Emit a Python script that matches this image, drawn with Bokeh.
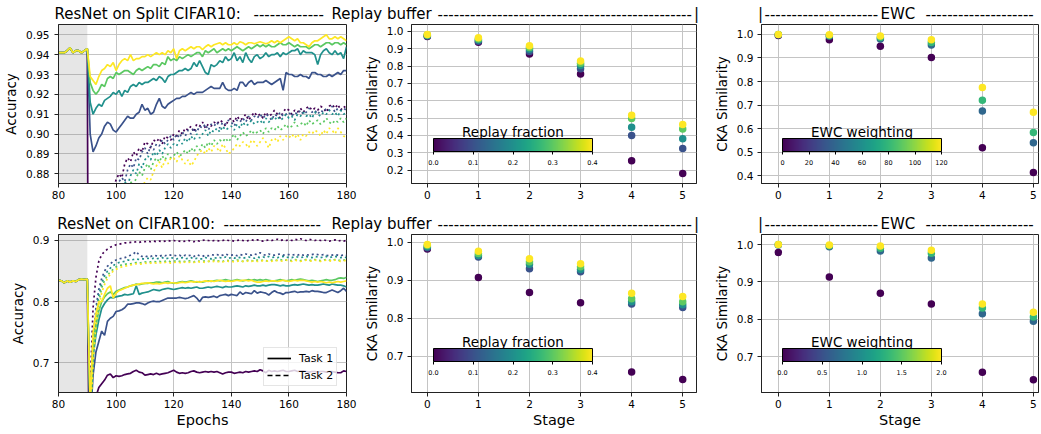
from bokeh.plotting import figure
from bokeh.layouts import column, row
from bokeh.models import (Range1d, FixedTicker, PrintfTickFormatter, BoxAnnotation,
                          ColumnDataSource, LinearColorMapper, ColorBar, Label, Legend, LegendItem)
from bokeh.palettes import Viridis256
from bokeh.core.properties import value
from bokeh.embed import file_html
from bokeh.resources import INLINE

FONT = "DejaVu Sans"

# ---------------- data ----------------
epochs_pre = list(range(80, 91))
epochs_post = list(range(91, 181))
replay_fracs = [0.0, 0.1, 0.2, 0.3, 0.4]
stages = [0, 1, 2, 3, 4, 5]
ewc_w10 = [0, 40, 80, 120]
ewc_w100 = [0.0, 0.667, 1.333, 2.0]

acc_ticks_c10 = [0.88, 0.89, 0.90, 0.91, 0.92, 0.93, 0.94, 0.95]
acc_ticks_c100 = [0.7, 0.8, 0.9]
epoch_ticks = [80, 100, 120, 140, 160, 180]

# CIFAR10, Task 1 (solid) before the task switch (shared)
c10_pre = [0.941, 0.941, 0.941, 0.942, 0.9435, 0.941, 0.942, 0.942, 0.941, 0.942, 0.943]
# Task 1 with replay 0.0 falls below the visible range right after epoch 90
c10_t1_r00 = [0.50]
c10_t1_r01 = [0.900, 0.891, 0.894, 0.898, 0.900, 0.904, 0.906, 0.905, 0.902, 0.901,
              0.903, 0.905, 0.907, 0.909, 0.908, 0.908, 0.910, 0.911, 0.915, 0.912,
              0.913, 0.910, 0.911, 0.915, 0.918, 0.914, 0.913, 0.915, 0.916, 0.917,
              0.918, 0.918, 0.919, 0.919, 0.920, 0.921, 0.920, 0.921, 0.921, 0.921,
              0.922, 0.923, 0.924, 0.923, 0.923, 0.923, 0.926, 0.923, 0.922, 0.922,
              0.923, 0.922, 0.926, 0.926, 0.924, 0.926, 0.927, 0.925, 0.926, 0.926,
              0.926, 0.927, 0.926, 0.925, 0.926, 0.927, 0.928, 0.922, 0.931, 0.930,
              0.930, 0.929, 0.929, 0.930, 0.929, 0.929, 0.928, 0.931, 0.931, 0.930,
              0.930, 0.929, 0.929, 0.930, 0.929, 0.930, 0.931, 0.930, 0.932, 0.932]
c10_t1_r02 = [0.916, 0.910, 0.913, 0.915, 0.914, 0.917, 0.918, 0.919, 0.921, 0.920,
              0.922, 0.919, 0.922, 0.921, 0.924, 0.925, 0.924, 0.926, 0.925, 0.926,
              0.926, 0.927, 0.928, 0.927, 0.929, 0.928, 0.926, 0.929, 0.930, 0.930,
              0.931, 0.932, 0.932, 0.933, 0.932, 0.933, 0.936, 0.934, 0.937, 0.934,
              0.931, 0.930, 0.935, 0.934, 0.935, 0.937, 0.936, 0.939, 0.937, 0.938,
              0.941, 0.937, 0.939, 0.936, 0.941, 0.938, 0.936, 0.939, 0.940, 0.938,
              0.939, 0.941, 0.939, 0.940, 0.940, 0.941, 0.939, 0.941, 0.940, 0.941,
              0.942, 0.942, 0.943, 0.940, 0.942, 0.941, 0.941, 0.941, 0.940, 0.935,
              0.940, 0.942, 0.943, 0.941, 0.940, 0.942, 0.940, 0.941, 0.938, 0.944]
c10_t1_r03 = [0.926, 0.922, 0.920, 0.922, 0.925, 0.924, 0.928, 0.929, 0.928, 0.931,
              0.930, 0.931, 0.932, 0.932, 0.931, 0.930, 0.932, 0.933, 0.932, 0.933,
              0.934, 0.933, 0.935, 0.935, 0.934, 0.936, 0.935, 0.939, 0.937, 0.938,
              0.937, 0.939, 0.938, 0.939, 0.940, 0.939, 0.940, 0.941, 0.941, 0.939,
              0.942, 0.941, 0.942, 0.943, 0.941, 0.942, 0.943, 0.942, 0.943, 0.942,
              0.943, 0.944, 0.943, 0.942, 0.943, 0.944, 0.943, 0.944, 0.945, 0.944,
              0.945, 0.944, 0.945, 0.944, 0.944, 0.945, 0.946, 0.945, 0.945, 0.946,
              0.945, 0.944, 0.945, 0.944, 0.944, 0.944, 0.943, 0.944, 0.945, 0.945,
              0.944, 0.945, 0.946, 0.946, 0.945, 0.946, 0.946, 0.945, 0.946, 0.945]
c10_t1_r04 = [0.929, 0.927, 0.925, 0.929, 0.932, 0.933, 0.935, 0.934, 0.936, 0.932,
              0.935, 0.937, 0.938, 0.937, 0.940, 0.937, 0.938, 0.938, 0.939, 0.939,
              0.940, 0.939, 0.940, 0.941, 0.940, 0.941, 0.940, 0.942, 0.941, 0.943,
              0.938, 0.942, 0.943, 0.942, 0.943, 0.944, 0.943, 0.944, 0.944, 0.9425,
              0.944, 0.945, 0.944, 0.945, 0.9455, 0.946, 0.945, 0.946, 0.945, 0.945,
              0.946, 0.945, 0.9465, 0.946, 0.945, 0.946, 0.946, 0.9455, 0.946, 0.9465,
              0.946, 0.9455, 0.946, 0.947, 0.946, 0.947, 0.946, 0.947, 0.948, 0.949,
              0.948, 0.947, 0.948, 0.946, 0.946, 0.945, 0.944, 0.946, 0.947, 0.947,
              0.948, 0.949, 0.950, 0.948, 0.948, 0.949, 0.948, 0.949, 0.948, 0.947]

# CIFAR10, Task 2 (dotted)
c10_t2_r00 = [0.60, 0.76, 0.81, 0.835, 0.848, 0.856, 0.862, 0.867, 0.872, 0.877,
              0.880, 0.878, 0.885, 0.888, 0.886, 0.891, 0.889, 0.893, 0.891, 0.896,
              0.895, 0.893, 0.897, 0.896, 0.898, 0.895, 0.899, 0.898, 0.897, 0.900,
              0.899, 0.902, 0.900, 0.903, 0.902, 0.904, 0.901, 0.905, 0.904, 0.906,
              0.903, 0.905, 0.904, 0.906, 0.905, 0.907, 0.906, 0.904, 0.907, 0.908,
              0.906, 0.909, 0.907, 0.908, 0.910, 0.907, 0.909, 0.911, 0.909, 0.910,
              0.908, 0.911, 0.909, 0.910, 0.912, 0.910, 0.908, 0.911, 0.913, 0.912,
              0.910, 0.912, 0.911, 0.913, 0.911, 0.913, 0.914, 0.912, 0.913, 0.912,
              0.914, 0.913, 0.911, 0.914, 0.915, 0.913, 0.915, 0.912, 0.914, 0.913]
c10_t2_r01 = [0.55, 0.74, 0.80, 0.826, 0.840, 0.850, 0.857, 0.863, 0.868, 0.872,
              0.876, 0.878, 0.876, 0.882, 0.885, 0.883, 0.888, 0.887, 0.891, 0.893,
              0.890, 0.894, 0.892, 0.895, 0.894, 0.897, 0.895, 0.897, 0.899, 0.897,
              0.900, 0.898, 0.901, 0.899, 0.902, 0.900, 0.903, 0.901, 0.904, 0.903,
              0.905, 0.902, 0.905, 0.904, 0.906, 0.903, 0.906, 0.905, 0.907, 0.906,
              0.904, 0.907, 0.906, 0.908, 0.906, 0.909, 0.907, 0.909, 0.908, 0.910,
              0.908, 0.910, 0.909, 0.907, 0.910, 0.909, 0.911, 0.909, 0.910, 0.911,
              0.909, 0.911, 0.910, 0.912, 0.910, 0.911, 0.913, 0.911, 0.912, 0.910,
              0.912, 0.911, 0.913, 0.912, 0.914, 0.911, 0.913, 0.912, 0.913, 0.912]
c10_t2_r02 = [0.50, 0.72, 0.78, 0.81, 0.828, 0.840, 0.848, 0.855, 0.861, 0.866,
              0.870, 0.873, 0.876, 0.874, 0.879, 0.882, 0.880, 0.885, 0.883, 0.887,
              0.889, 0.887, 0.891, 0.889, 0.892, 0.890, 0.893, 0.895, 0.893, 0.895,
              0.894, 0.897, 0.895, 0.898, 0.896, 0.899, 0.897, 0.900, 0.898, 0.900,
              0.902, 0.899, 0.902, 0.901, 0.903, 0.901, 0.904, 0.902, 0.903, 0.904,
              0.902, 0.905, 0.903, 0.906, 0.904, 0.905, 0.907, 0.905, 0.906, 0.907,
              0.905, 0.908, 0.906, 0.908, 0.907, 0.909, 0.907, 0.908, 0.910, 0.908,
              0.909, 0.907, 0.910, 0.909, 0.911, 0.909, 0.910, 0.908, 0.911, 0.910,
              0.909, 0.911, 0.910, 0.912, 0.910, 0.911, 0.909, 0.912, 0.910, 0.911]
c10_t2_r03 = [0.45, 0.70, 0.76, 0.795, 0.815, 0.828, 0.838, 0.846, 0.852, 0.858,
              0.862, 0.866, 0.869, 0.872, 0.876, 0.874, 0.878, 0.881, 0.879, 0.883,
              0.885, 0.882, 0.886, 0.888, 0.886, 0.889, 0.887, 0.890, 0.888, 0.889,
              0.891, 0.889, 0.890, 0.892, 0.890, 0.893, 0.891, 0.894, 0.892, 0.895,
              0.893, 0.896, 0.894, 0.897, 0.895, 0.897, 0.896, 0.898, 0.896, 0.898,
              0.900, 0.897, 0.899, 0.901, 0.899, 0.900, 0.902, 0.900, 0.901, 0.902,
              0.900, 0.903, 0.901, 0.903, 0.902, 0.904, 0.902, 0.903, 0.905, 0.903,
              0.904, 0.906, 0.904, 0.905, 0.906, 0.904, 0.907, 0.905, 0.906, 0.907,
              0.905, 0.906, 0.908, 0.906, 0.905, 0.907, 0.906, 0.908, 0.906, 0.908]
c10_t2_r04 = [0.40, 0.66, 0.73, 0.77, 0.795, 0.810, 0.822, 0.832, 0.840, 0.846,
              0.851, 0.856, 0.860, 0.864, 0.867, 0.869, 0.872, 0.874, 0.873, 0.876,
              0.878, 0.877, 0.881, 0.884, 0.886, 0.883, 0.887, 0.885, 0.888, 0.888,
              0.886, 0.889, 0.887, 0.885, 0.887, 0.884, 0.886, 0.889, 0.891, 0.892,
              0.890, 0.893, 0.891, 0.894, 0.893, 0.891, 0.895, 0.893, 0.890, 0.891,
              0.893, 0.895, 0.894, 0.896, 0.895, 0.893, 0.897, 0.896, 0.894, 0.896,
              0.898, 0.896, 0.893, 0.897, 0.898, 0.896, 0.899, 0.897, 0.899, 0.898,
              0.900, 0.898, 0.900, 0.897, 0.900, 0.899, 0.901, 0.900, 0.902, 0.901,
              0.899, 0.902, 0.900, 0.903, 0.902, 0.900, 0.903, 0.901, 0.899, 0.898]

# CIFAR100, Task 1 (solid)
c100_pre = [0.835, 0.834, 0.831, 0.834, 0.832, 0.834, 0.833, 0.836, 0.837, 0.836, 0.837]
c100_t1_r00 = [0.40, 0.55, 0.645, 0.660, 0.666, 0.672, 0.680, 0.682, 0.676, 0.679,
               0.678, 0.679, 0.681, 0.682, 0.683, 0.686, 0.688, 0.685, 0.684, 0.680,
               0.681, 0.682, 0.681, 0.683, 0.681, 0.682, 0.683, 0.684, 0.686, 0.688,
               0.685, 0.683, 0.684, 0.683, 0.684, 0.686, 0.687, 0.685, 0.684, 0.685,
               0.686, 0.685, 0.686, 0.685, 0.686, 0.684, 0.682, 0.684, 0.685, 0.685,
               0.683, 0.684, 0.685, 0.684, 0.686, 0.685, 0.686, 0.687, 0.686, 0.689,
               0.687, 0.684, 0.688, 0.686, 0.687, 0.686, 0.687, 0.688, 0.686, 0.686,
               0.687, 0.688, 0.686, 0.687, 0.687, 0.686, 0.685, 0.686, 0.686, 0.685,
               0.686, 0.686, 0.685, 0.686, 0.686, 0.685, 0.684, 0.684, 0.687, 0.686]
c100_t1_r01 = [0.60, 0.68, 0.718, 0.735, 0.752, 0.745, 0.768, 0.773, 0.776, 0.784,
               0.785, 0.787, 0.790, 0.796, 0.796, 0.797, 0.798, 0.798, 0.797, 0.795,
               0.798, 0.800, 0.801, 0.800, 0.800, 0.802, 0.804, 0.806, 0.806, 0.806,
               0.806, 0.807, 0.806, 0.805, 0.806, 0.808, 0.810, 0.806, 0.800, 0.807,
               0.808, 0.807, 0.808, 0.809, 0.807, 0.810, 0.811, 0.812, 0.810, 0.812,
               0.811, 0.810, 0.816, 0.812, 0.815, 0.814, 0.813, 0.818, 0.814, 0.816,
               0.815, 0.814, 0.811, 0.815, 0.818, 0.815, 0.814, 0.812, 0.815, 0.815,
               0.816, 0.817, 0.815, 0.816, 0.816, 0.817, 0.816, 0.818, 0.817, 0.817,
               0.816, 0.815, 0.815, 0.817, 0.819, 0.817, 0.815, 0.818, 0.822, 0.817]
c100_t1_r02 = [0.61, 0.71, 0.746, 0.770, 0.789, 0.797, 0.803, 0.807, 0.806, 0.808,
               0.809, 0.810, 0.812, 0.811, 0.812, 0.813, 0.826, 0.812, 0.814, 0.815,
               0.816, 0.818, 0.820, 0.819, 0.818, 0.820, 0.821, 0.822, 0.821, 0.820,
               0.821, 0.822, 0.823, 0.822, 0.823, 0.822, 0.823, 0.824, 0.822, 0.822,
               0.823, 0.824, 0.823, 0.824, 0.825, 0.824, 0.823, 0.825, 0.824, 0.824,
               0.825, 0.826, 0.825, 0.824, 0.826, 0.825, 0.826, 0.827, 0.826, 0.826,
               0.827, 0.826, 0.827, 0.828, 0.828, 0.827, 0.826, 0.827, 0.826, 0.826,
               0.827, 0.828, 0.827, 0.828, 0.829, 0.828, 0.827, 0.828, 0.827, 0.827,
               0.828, 0.829, 0.828, 0.827, 0.829, 0.828, 0.827, 0.827, 0.826, 0.824]
c100_t1_r03 = [0.62, 0.72, 0.76, 0.785, 0.800, 0.808, 0.813, 0.816, 0.812, 0.817,
               0.819, 0.821, 0.823, 0.824, 0.826, 0.827, 0.829, 0.828, 0.829, 0.830,
               0.830, 0.831, 0.831, 0.832, 0.832, 0.831, 0.832, 0.833, 0.831, 0.830,
               0.831, 0.832, 0.833, 0.832, 0.833, 0.834, 0.833, 0.832, 0.833, 0.832,
               0.833, 0.834, 0.833, 0.834, 0.835, 0.834, 0.835, 0.836, 0.835, 0.834,
               0.835, 0.836, 0.835, 0.834, 0.835, 0.836, 0.835, 0.836, 0.835, 0.836,
               0.835, 0.836, 0.835, 0.834, 0.834, 0.835, 0.836, 0.835, 0.834, 0.835,
               0.836, 0.835, 0.836, 0.837, 0.836, 0.835, 0.834, 0.835, 0.834, 0.833,
               0.834, 0.835, 0.836, 0.835, 0.835, 0.836, 0.838, 0.839, 0.838, 0.840]
c100_t1_r04 = [0.63, 0.75, 0.78, 0.800, 0.800, 0.812, 0.822, 0.826, 0.806, 0.814,
               0.818, 0.820, 0.822, 0.824, 0.826, 0.827, 0.828, 0.829, 0.830, 0.830,
               0.831, 0.830, 0.829, 0.830, 0.829, 0.830, 0.831, 0.830, 0.831, 0.831,
               0.830, 0.831, 0.832, 0.831, 0.832, 0.833, 0.832, 0.833, 0.832, 0.833,
               0.834, 0.833, 0.834, 0.833, 0.834, 0.835, 0.834, 0.833, 0.834, 0.833,
               0.834, 0.835, 0.834, 0.835, 0.835, 0.834, 0.835, 0.833, 0.832, 0.832,
               0.833, 0.834, 0.833, 0.834, 0.834, 0.833, 0.834, 0.835, 0.834, 0.833,
               0.834, 0.835, 0.834, 0.835, 0.835, 0.834, 0.833, 0.832, 0.833, 0.832,
               0.833, 0.832, 0.831, 0.832, 0.831, 0.832, 0.833, 0.832, 0.833, 0.834]

# CIFAR100, Task 2 (dotted)
c100_t2_r00 = [0.66, 0.79, 0.840, 0.866, 0.877, 0.882, 0.886, 0.889, 0.891, 0.893,
               0.894, 0.895, 0.896, 0.896, 0.897, 0.897, 0.898, 0.897, 0.898, 0.898,
               0.899, 0.898, 0.899, 0.898, 0.899, 0.898, 0.899, 0.900, 0.899, 0.900,
               0.899, 0.899, 0.898, 0.899, 0.900, 0.899, 0.898, 0.900, 0.899, 0.900,
               0.901, 0.900, 0.899, 0.900, 0.900, 0.899, 0.900, 0.901, 0.900, 0.900,
               0.899, 0.900, 0.901, 0.900, 0.899, 0.900, 0.901, 0.900, 0.901, 0.900,
               0.899, 0.900, 0.901, 0.900, 0.901, 0.902, 0.900, 0.901, 0.900, 0.901,
               0.900, 0.902, 0.901, 0.903, 0.901, 0.900, 0.902, 0.901, 0.900, 0.901,
               0.900, 0.901, 0.900, 0.899, 0.900, 0.901, 0.899, 0.900, 0.899, 0.900]
c100_t2_r01 = [0.64, 0.74, 0.790, 0.820, 0.838, 0.850, 0.858, 0.862, 0.866, 0.868,
               0.870, 0.871, 0.872, 0.874, 0.876, 0.878, 0.882, 0.876, 0.874, 0.873,
               0.875, 0.874, 0.876, 0.875, 0.874, 0.876, 0.875, 0.877, 0.876, 0.876,
               0.875, 0.876, 0.874, 0.876, 0.875, 0.876, 0.874, 0.877, 0.875, 0.874,
               0.876, 0.875, 0.877, 0.876, 0.877, 0.875, 0.876, 0.878, 0.876, 0.876,
               0.877, 0.875, 0.877, 0.876, 0.878, 0.877, 0.876, 0.878, 0.877, 0.880,
               0.877, 0.876, 0.878, 0.876, 0.876, 0.877, 0.878, 0.876, 0.877, 0.877,
               0.876, 0.877, 0.876, 0.878, 0.876, 0.877, 0.876, 0.877, 0.878, 0.877,
               0.876, 0.877, 0.876, 0.875, 0.876, 0.877, 0.876, 0.875, 0.877, 0.876]
c100_t2_r02 = [0.63, 0.73, 0.780, 0.810, 0.830, 0.842, 0.850, 0.855, 0.859, 0.862,
               0.864, 0.865, 0.866, 0.868, 0.868, 0.869, 0.870, 0.869, 0.870, 0.870,
               0.871, 0.870, 0.871, 0.870, 0.871, 0.872, 0.870, 0.871, 0.872, 0.871,
               0.870, 0.871, 0.872, 0.870, 0.871, 0.872, 0.870, 0.871, 0.870, 0.870,
               0.872, 0.871, 0.870, 0.872, 0.871, 0.872, 0.871, 0.873, 0.871, 0.872,
               0.871, 0.873, 0.872, 0.871, 0.872, 0.873, 0.872, 0.871, 0.873, 0.872,
               0.873, 0.872, 0.874, 0.872, 0.873, 0.872, 0.873, 0.874, 0.872, 0.873,
               0.872, 0.874, 0.873, 0.872, 0.873, 0.874, 0.873, 0.872, 0.874, 0.873,
               0.872, 0.873, 0.874, 0.872, 0.873, 0.874, 0.873, 0.872, 0.873, 0.872]
c100_t2_r03 = [0.62, 0.72, 0.770, 0.800, 0.823, 0.835, 0.843, 0.849, 0.853, 0.857,
               0.859, 0.860, 0.861, 0.862, 0.862, 0.863, 0.864, 0.863, 0.864, 0.865,
               0.864, 0.865, 0.866, 0.865, 0.866, 0.865, 0.866, 0.867, 0.865, 0.866,
               0.867, 0.866, 0.865, 0.866, 0.867, 0.866, 0.865, 0.867, 0.866, 0.866,
               0.867, 0.866, 0.867, 0.868, 0.866, 0.867, 0.866, 0.868, 0.867, 0.867,
               0.866, 0.868, 0.867, 0.866, 0.867, 0.868, 0.867, 0.866, 0.868, 0.867,
               0.868, 0.867, 0.866, 0.868, 0.867, 0.868, 0.869, 0.867, 0.868, 0.868,
               0.867, 0.869, 0.868, 0.867, 0.868, 0.869, 0.868, 0.867, 0.869, 0.868,
               0.867, 0.868, 0.869, 0.868, 0.867, 0.869, 0.868, 0.867, 0.868, 0.868]
c100_t2_r04 = [0.60, 0.70, 0.760, 0.790, 0.815, 0.828, 0.838, 0.845, 0.850, 0.853,
               0.855, 0.857, 0.858, 0.859, 0.860, 0.861, 0.862, 0.861, 0.862, 0.863,
               0.862, 0.863, 0.864, 0.863, 0.864, 0.863, 0.864, 0.865, 0.863, 0.864,
               0.865, 0.864, 0.863, 0.865, 0.864, 0.865, 0.864, 0.866, 0.865, 0.865,
               0.864, 0.866, 0.865, 0.866, 0.865, 0.866, 0.865, 0.867, 0.866, 0.866,
               0.865, 0.866, 0.867, 0.866, 0.865, 0.867, 0.866, 0.867, 0.866, 0.866,
               0.867, 0.866, 0.867, 0.866, 0.868, 0.867, 0.866, 0.867, 0.868, 0.867,
               0.866, 0.868, 0.867, 0.866, 0.867, 0.868, 0.867, 0.866, 0.868, 0.867,
               0.866, 0.867, 0.868, 0.867, 0.866, 0.868, 0.867, 0.866, 0.867, 0.867]

# CKA similarity per stage
rep10_r00 = [0.971, 0.938, 0.870, 0.754, 0.254, 0.181]
rep10_r01 = [0.973, 0.943, 0.885, 0.785, 0.400, 0.325]
rep10_r02 = [0.976, 0.950, 0.897, 0.803, 0.448, 0.381]
rep10_r03 = [0.979, 0.957, 0.908, 0.817, 0.498, 0.438]
rep10_r04 = [0.983, 0.963, 0.918, 0.830, 0.517, 0.463]

ewc10_w0 = [0.995, 0.977, 0.950, 0.902, 0.519, 0.414]
ewc10_w40 = [0.999, 0.992, 0.980, 0.955, 0.675, 0.540]
ewc10_w80 = [1.000, 0.995, 0.987, 0.966, 0.720, 0.583]
ewc10_w120 = [1.000, 0.998, 0.993, 0.977, 0.775, 0.670]

rep100_r00 = [0.982, 0.907, 0.867, 0.840, 0.658, 0.638]
rep100_r01 = [0.985, 0.961, 0.930, 0.922, 0.837, 0.828]
rep100_r02 = [0.988, 0.965, 0.942, 0.928, 0.843, 0.835]
rep100_r03 = [0.991, 0.970, 0.948, 0.935, 0.851, 0.843]
rep100_r04 = [0.994, 0.976, 0.956, 0.943, 0.865, 0.857]

ewc100_w0 = [0.979, 0.913, 0.870, 0.841, 0.658, 0.638]
ewc100_w067 = [0.999, 0.994, 0.983, 0.964, 0.815, 0.795]
ewc100_w133 = [1.000, 0.997, 0.990, 0.977, 0.830, 0.806]
ewc100_w200 = [1.000, 0.999, 0.996, 0.985, 0.841, 0.819]

cka_ticks_b = [0.2, 0.3, 0.4, 0.5, 0.6, 0.7, 0.8, 0.9, 1.0]
cka_ticks_c = [0.4, 0.5, 0.6, 0.7, 0.8, 0.9, 1.0]
cka_ticks_ef = [0.7, 0.8, 0.9, 1.0]
cb_ticks_rep = [0.0, 0.1, 0.2, 0.3, 0.4]
cb_ticks_ewc10 = [0, 20, 40, 60, 80, 100, 120]
cb_ticks_ewc100 = [0.0, 0.5, 1.0, 1.5, 2.0]

# ---------------- layout constants ----------------
W_TOTAL = 1039
HDR1_H, HDR2_H = 23, 32
FH1, FH2 = 159, 158
BOT1, BOT2 = 18, 40
SPINE = "#222222"


def base_fig(fw, fh, xr, yr, mbl, mbr, mbb):
    p = figure(frame_width=fw, frame_height=fh, x_range=xr, y_range=yr,
               toolbar_location=None, output_backend="svg",
               min_border_left=mbl, min_border_right=mbr, min_border_top=1,
               min_border_bottom=mbb)
    p.outline_line_color = SPINE
    p.outline_line_width = 1
    p.background_fill_color = "white"
    p.border_fill_color = "white"
    for ax in (p.xaxis[0], p.yaxis[0]):
        ax.axis_line_color = SPINE
        ax.major_tick_line_color = SPINE
        ax.major_tick_in = 0
        ax.major_tick_out = 4
        ax.minor_tick_line_color = None
        ax.major_label_text_font = FONT
        ax.major_label_text_font_size = "10.5px"
        ax.major_label_text_color = "black"
        ax.axis_label_text_font = FONT
        ax.axis_label_text_font_style = "normal"
        ax.axis_label_text_color = "black"
    p.xaxis.axis_label_text_font_size = "14.5px"
    p.yaxis.axis_label_text_font_size = "13.5px"
    p.xaxis.major_label_standoff = 3
    p.xaxis.axis_label_standoff = 1
    p.grid.grid_line_color = "#c4c4c4"
    p.grid.grid_line_width = 1
    return p


def line_panel(pre, t1_series, t2_series, yr, yticks, yfmt, fh, mbb, xlabel=None, legend=False):
    p = base_fig(288, fh, Range1d(80, 180), Range1d(*yr), 58, 14, mbb)
    p.add_layout(BoxAnnotation(left=80, right=90, fill_color="#808080", fill_alpha=0.2,
                               line_color=None, level="underlay"))
    for frac, t1, t2 in zip(replay_fracs, t1_series, t2_series):
        col = Viridis256[round(frac / 0.4 * 255)]
        p.line(epochs_pre + epochs_post[:len(t1)], pre + t1, line_color=col, line_width=1.7)
        p.line(epochs_post[:len(t2)], t2, line_color=col, line_width=1.7, line_dash="2 3")
    p.xaxis.ticker = FixedTicker(ticks=epoch_ticks)
    p.yaxis.ticker = FixedTicker(ticks=yticks)
    p.yaxis.formatter = PrintfTickFormatter(format=yfmt)
    p.yaxis.axis_label = "Accuracy"
    p.yaxis.major_label_standoff = 5
    p.yaxis.axis_label_standoff = 4
    if xlabel:
        p.xaxis.axis_label = xlabel
    if legend:
        nan = float("nan")
        r1 = p.line(x=[nan, nan], y=[nan, nan], line_color="black", line_width=1.7)
        r2 = p.line(x=[nan, nan], y=[nan, nan], line_color="black", line_width=1.7,
                    line_dash="5 3")
        leg = Legend(items=[LegendItem(label="Task 1", renderers=[r1]),
                            LegendItem(label="Task 2", renderers=[r2])],
                     location=(205, 6), padding=3, spacing=3, margin=0,
                     glyph_width=24, glyph_height=14, label_standoff=8,
                     label_text_font=FONT, label_text_font_size="11px",
                     label_text_color="black",
                     border_line_color="#cccccc", background_fill_alpha=0.8)
        p.add_layout(leg)
    return p


def scatter_panel(series, weights, low, high, yr, yticks, xr, fw, fh, mbl, mbr, mbb,
                  cb_ticks, cb_fmt, cb_title, bar_left, bar_bottom, xlabel=None):
    p = base_fig(fw, fh, Range1d(*xr), Range1d(*yr), mbl, mbr, mbb)
    mapper = LinearColorMapper(palette=Viridis256, low=low, high=high)
    xs, ys, ws = [], [], []
    for w, vals in zip(weights, series):
        xs += stages
        ys += vals
        ws += [w] * len(vals)
    src = ColumnDataSource(dict(stage=xs, sim=ys, w=ws))
    p.scatter("stage", "sim", source=src, size=7.5,
              fill_color={"field": "w", "transform": mapper}, line_color=None)
    p.xaxis.ticker = FixedTicker(ticks=stages)
    p.yaxis.ticker = FixedTicker(ticks=yticks)
    p.yaxis.formatter = PrintfTickFormatter(format="%.1f")
    p.yaxis.axis_label = "CKA Similarity"
    p.yaxis.major_label_standoff = 4
    p.yaxis.axis_label_standoff = 4
    if xlabel:
        p.xaxis.axis_label = xlabel
    p.add_layout(Label(x=bar_left + 79.5, y=bar_bottom + 21, x_units="screen", y_units="screen",
                       text=cb_title, text_align="center", text_baseline="middle",
                       text_font=FONT, text_font_size="13.5px", text_color="black"))
    cb = ColorBar(color_mapper=mapper, orientation="horizontal",
                  location=(bar_left, bar_bottom - 15), width=159, height=13,
                  padding=0, margin=0,
                  ticker=FixedTicker(ticks=cb_ticks),
                  formatter=PrintfTickFormatter(format=cb_fmt),
                  major_label_text_font=FONT, major_label_text_font_size="6.5px",
                  major_label_text_color="black",
                  major_tick_in=0, major_tick_out=3, major_tick_line_color="black",
                  bar_line_color="black", bar_line_width=1,
                  background_fill_color=None, border_line_color=None)
    p.add_layout(cb)
    return p


def header(h, left_items, center_items):
    p = figure(frame_width=W_TOTAL, frame_height=h, x_range=Range1d(0, W_TOTAL),
               y_range=Range1d(0, h), toolbar_location=None, output_backend="svg",
               x_axis_type=None, y_axis_type=None, min_border=0)
    p.outline_line_color = None
    p.grid.visible = False
    for items, align in ((left_items, "left"), (center_items, "center")):
        src = ColumnDataSource(dict(x=[i[0] for i in items], y=[9.5] * len(items),
                                    text=[i[1] for i in items]))
        p.text(x="x", y="y", text="text", source=src, text_font=value(FONT),
               text_font_size=value("15px"), text_align=align,
               text_baseline="middle", text_color="black")
    return p


hdr1 = header(HDR1_H,
              [(54, "ResNet on Split CIFAR10:"), (253, "-" * 13), (331, "Replay buffer"),
               (437, "-" * 47), (764, "-" * 21), (880, "EWC"), (925, "-" * 20)],
              [(696, "|"), (760, "|")])
hdr2 = header(HDR2_H,
              [(56.7, "ResNet on CIFAR100:"), (223, "-" * 18), (331, "Replay buffer"),
               (437, "-" * 47), (764, "-" * 21), (880, "EWC"), (925, "-" * 20)],
              [(696, "|"), (760, "|")])

pA = line_panel(c10_pre, [c10_t1_r00, c10_t1_r01, c10_t1_r02, c10_t1_r03, c10_t1_r04],
                [c10_t2_r00, c10_t2_r01, c10_t2_r02, c10_t2_r03, c10_t2_r04],
                (0.8751, 0.9552), acc_ticks_c10, "%.2f", FH1, BOT1)
pB = scatter_panel([rep10_r00, rep10_r01, rep10_r02, rep10_r03, rep10_r04], replay_fracs,
                   0.0, 0.4, (0.123, 1.040), cka_ticks_b, (-0.31, 5.27), 285, FH1, 49, 10, BOT1,
                   cb_ticks_rep, "%.1f", "Replay fraction", 22, 31)
pC = scatter_panel([ewc10_w0, ewc10_w40, ewc10_w80, ewc10_w120], ewc_w10,
                   0, 120, (0.367, 1.042), cka_ticks_c, (-0.33, 5.10), 277, FH1, 55, 3, BOT1,
                   cb_ticks_ewc10, "%d", "EWC weighting", 21, 31)

pD = line_panel(c100_pre, [c100_t1_r00, c100_t1_r01, c100_t1_r02, c100_t1_r03, c100_t1_r04],
                [c100_t2_r00, c100_t2_r01, c100_t2_r02, c100_t2_r03, c100_t2_r04],
                (0.6517, 0.9098), acc_ticks_c100, "%.1f", FH2, BOT2, xlabel="Epochs", legend=True)
pE = scatter_panel([rep100_r00, rep100_r01, rep100_r02, rep100_r03, rep100_r04], replay_fracs,
                   0.0, 0.4, (0.604, 1.020), cka_ticks_ef, (-0.31, 5.27), 285, FH2, 49, 10, BOT2,
                   cb_ticks_rep, "%.1f", "Replay fraction", 22, 30, xlabel="Stage")
pF = scatter_panel([ewc100_w0, ewc100_w067, ewc100_w133, ewc100_w200], ewc_w100,
                   0.0, 2.0, (0.604, 1.027), cka_ticks_ef, (-0.33, 5.10), 277, FH2, 55, 3, BOT2,
                   cb_ticks_ewc100, "%.1f", "EWC weighting", 21, 30, xlabel="Stage")

layout = column(hdr1, row(pA, pB, pC), hdr2, row(pD, pE, pF))

open("out.html", "w").write(file_html(layout, INLINE))
